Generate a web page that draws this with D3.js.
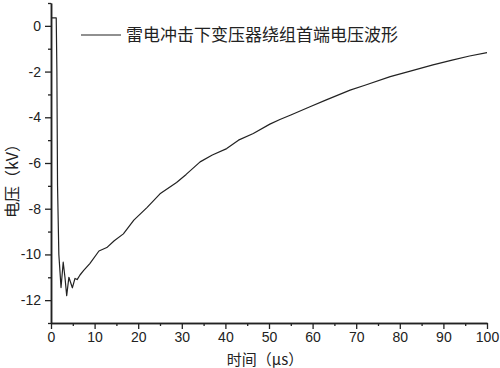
<!DOCTYPE html>
<html><head><meta charset="utf-8">
<script src="https://cdn.jsdelivr.net/npm/d3@7"></script>
<style>body{margin:0;background:#fff}svg{display:block}</style>
</head><body><svg id="c" width="500" height="368"></svg>
<script>
const times = [0, 1.2, 1.35, 1.5, 1.8, 2.3, 2.8, 3.2, 3.6, 4.1, 4.9, 5.5, 6.0, 6.65, 7.5, 8.9, 11, 12.8, 14.5, 16.6, 19, 22, 25, 28.8, 31, 34.2, 37, 40.3, 43, 46.4, 50.2, 52.5, 55, 59.4, 63, 68.6, 72, 77.8, 82, 87.6, 92, 96, 100];
const voltages = [0.35, 0.35, -2, -7, -10, -11.45, -10.34, -11.0, -11.8, -11.0, -11.46, -11.05, -11.1, -10.9, -10.7, -10.4, -9.85, -9.7, -9.4, -9.1, -8.5, -7.95, -7.35, -6.85, -6.5, -5.95, -5.65, -5.37, -5.0, -4.71, -4.3, -4.1, -3.9, -3.54, -3.25, -2.81, -2.6, -2.22, -2.0, -1.71, -1.5, -1.32, -1.17];
const xTicks = [0,10,20,30,40,50,60,70,80,90,100];
const xMinor = [5,15,25,35,45,55,65,75,85,95];
const yTicks = [0,-2,-4,-6,-8,-10,-12];
const yMinor = [1,-1,-3,-5,-7,-9,-11,-13];
const legendLabel = "雷电冲击下变压器绕组首端电压波形";
const xTitle = "时间（μs）";
const yTitle = "电压（kV）";

const svg = d3.select("#c");
const x = d3.scaleLinear().domain([0,100]).range([51,487]);
const y = d3.scaleLinear().domain([-13,1]).range([323,3]);
const fmt = d => String(d);

const line = d3.line().x((d,i)=>x(times[i])).y(d=>y(d));
svg.append("path").datum(voltages).attr("d",line)
  .attr("fill","none").attr("stroke","#222").attr("stroke-width",1.2).attr("stroke-linejoin","round");

const tickFont = "Liberation Sans, Arial, sans-serif";
svg.append("g").attr("transform","translate(0,323)")
  .call(d3.axisBottom(x).tickValues(xTicks).tickFormat(fmt).tickSize(6).tickSizeOuter(0).tickPadding(3));
svg.append("g").attr("transform","translate(0,323)")
  .call(d3.axisBottom(x).tickValues(xMinor).tickSize(3).tickSizeOuter(0).tickFormat(""));
svg.append("g").attr("transform","translate(51,0)")
  .call(d3.axisLeft(y).tickValues(yTicks).tickFormat(fmt).tickSize(6).tickSizeOuter(0).tickPadding(4));
svg.append("g").attr("transform","translate(51,0)")
  .call(d3.axisLeft(y).tickValues(yMinor).tickSize(3).tickSizeOuter(0).tickFormat(""));
svg.selectAll(".domain").attr("stroke","#222").attr("stroke-width",1.5);
svg.selectAll(".tick line").attr("stroke","#222").attr("stroke-width",1.3);
svg.selectAll(".tick text").attr("font-family",tickFont).attr("font-size",14).attr("fill","#222");

// legend
svg.append("line").attr("x1",81).attr("x2",121).attr("y1",35).attr("y2",35).attr("stroke","#222").attr("stroke-width",1.2);
svg.append("text").attr("x",126).attr("y",41).attr("font-family","Noto Sans CJK SC").attr("font-size",17)
  .attr("fill","#222").text(legendLabel);

svg.append("text").attr("x",265).attr("y",365).attr("text-anchor","middle")
  .attr("font-family","Noto Sans CJK SC").attr("font-size",15).attr("fill","#222").text(xTitle);
svg.append("text").attr("transform","translate(11,177) rotate(-90)").attr("text-anchor","middle")
  .attr("dominant-baseline","central")
  .attr("font-family","Noto Sans CJK SC").attr("font-size",16).attr("fill","#222").text(yTitle);
</script></body></html>
